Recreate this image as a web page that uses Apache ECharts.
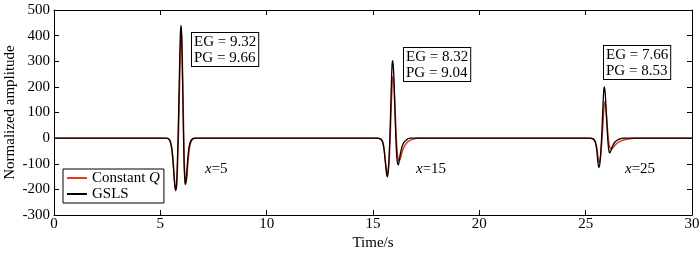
<!DOCTYPE html>
<html><head><meta charset="utf-8">
<script src="https://cdn.jsdelivr.net/npm/echarts@6/dist/echarts.min.js"></script>
<style>html,body{margin:0;padding:0;background:#fff}#c{width:700px;height:253px}</style>
</head><body><div id="c"></div>
<script>
// Constant Q series (time in s, normalized amplitude)
const timeConstQ = [0, 5.3, 5.45, 5.55, 5.62, 5.68, 5.73, 5.77, 5.81, 5.86, 5.91, 5.95, 5.98, 6.01, 6.05, 6.09, 6.13, 6.17, 6.21, 6.25, 6.30, 6.37, 6.47, 6.65,
  15.2, 15.35, 15.45, 15.52, 15.58, 15.63, 15.68, 15.72, 15.77, 15.82, 15.87, 15.91, 15.94, 15.98, 16.03, 16.08, 16.13, 16.18, 16.24, 16.30, 16.38, 16.50, 16.65, 16.85, 17.1,
  25.2, 25.35, 25.45, 25.52, 25.58, 25.63, 25.68, 25.73, 25.78, 25.83, 25.87, 25.90, 25.94, 25.99, 26.04, 26.09, 26.15, 26.22, 26.30, 26.40, 26.55, 26.75, 27.0, 27.3, 30];
const ampConstQ = [0, 0, -8, -45, -110, -178, -200, -182, -105, 40, 230, 370, 410, 388, 240, 55, -95, -160, -172, -150, -95, -40, -10, 0,
  0, -3, -13, -40, -85, -122, -138, -125, -70, 30, 150, 225, 240, 215, 130, 30, -45, -80, -88, -75, -50, -28, -14, -5, 0,
  0, -3, -12, -35, -75, -95, -85, -45, 10, 80, 130, 142, 125, 75, 20, -20, -38, -42, -36, -26, -16, -8, -3, 0, 0];
// GSLS series
const timeGSLS = [0, 5.3, 5.45, 5.55, 5.62, 5.68, 5.72, 5.76, 5.80, 5.85, 5.90, 5.94, 5.97, 6.00, 6.04, 6.08, 6.12, 6.16, 6.19, 6.23, 6.28, 6.35, 6.45, 6.6,
  15.2, 15.35, 15.45, 15.52, 15.58, 15.63, 15.67, 15.71, 15.76, 15.81, 15.86, 15.90, 15.93, 15.97, 16.02, 16.07, 16.12, 16.16, 16.19, 16.23, 16.30, 16.40, 16.55, 16.75,
  25.2, 25.35, 25.45, 25.52, 25.57, 25.62, 25.66, 25.71, 25.76, 25.81, 25.85, 25.88, 25.92, 25.97, 26.02, 26.07, 26.11, 26.14, 26.19, 26.27, 26.38, 26.55, 26.8, 30];
const ampGSLS = [0, 0, -10, -50, -120, -185, -205, -185, -100, 60, 260, 400, 440, 410, 250, 50, -110, -175, -180, -150, -90, -35, -8, 0,
  0, -3, -15, -45, -95, -135, -151, -135, -70, 50, 200, 290, 302, 260, 140, 10, -75, -100, -105, -90, -55, -25, -8, 0,
  0, -3, -15, -45, -90, -115, -105, -55, 20, 120, 185, 200, 175, 100, 20, -35, -55, -57, -48, -30, -15, -5, 0, 0];
const seriesNames = ['Constant Q', 'GSLS'];
const annotations = [
  {t: 'EG = 9.32\nPG = 9.66', x: 191, y: 32},
  {t: 'EG = 8.32\nPG = 9.04', x: 403, y: 47},
  {t: 'EG = 7.66\nPG = 8.53', x: 603, y: 45}
];
const offsetLabels = [{v: '5', x: 205, y: 162}, {v: '15', x: 416, y: 162}, {v: '25', x: 625, y: 162}];
const xTicks = {min: 0, max: 30, interval: 5};
const yTicks = {min: -300, max: 500, interval: 100};

const FONT = '"Liberation Serif", "Times New Roman", serif';
const FS = 15;
const zip = (a, b) => a.map((v, i) => [v, b[i]]);
const chart = echarts.init(document.getElementById('c'), null, {renderer: 'canvas'});
const axisCommon = {
  axisLine: {show: true, onZero: false, lineStyle: {color: '#000', width: 1}},
  axisTick: {show: true, inside: true, length: 5, lineStyle: {color: '#000'}},
  splitLine: {show: false}
};
const graphics = [];
annotations.forEach(a => graphics.push({
  type: 'text', left: a.x, top: a.y, z: 100,
  style: {text: a.t, font: FS + 'px ' + FONT, fill: '#000', lineHeight: 16,
    backgroundColor: '#fff', borderColor: '#000', borderWidth: 1, padding: [1, 2, 0, 2]}
}));
offsetLabels.forEach(o => graphics.push({
  type: 'text', left: o.x, top: o.y, z: 100,
  style: {text: '{i|x}=' + o.v, font: FS + 'px ' + FONT, fill: '#000',
    rich: {i: {fontStyle: 'italic', fontFamily: FONT, fontSize: FS}}}
}));
chart.setOption({
  animation: false,
  backgroundColor: '#fff',
  grid: {left: 54, right: 8, top: 10, bottom: 38, containLabel: false, outerBoundsMode: 'none'},
  legend: {
    orient: 'vertical', left: 63, top: 169, data: seriesNames,
    icon: 'rect', itemWidth: 20, itemHeight: 2,
    backgroundColor: '#fff', borderColor: '#000', borderWidth: 1, padding: [1, 4, 1, 4],
    itemGap: 0,
    textStyle: {fontFamily: FONT, fontSize: FS, color: '#000', lineHeight: 16,
      rich: {i: {fontStyle: 'italic', fontFamily: FONT, fontSize: FS, color: '#000', lineHeight: 16}}},
    formatter: n => n === 'Constant Q' ? 'Constant {i|Q}' : n
  },
  xAxis: [
    Object.assign({type: 'value', position: 'bottom', min: xTicks.min, max: xTicks.max, interval: xTicks.interval,
      name: 'Time/s', nameLocation: 'middle', nameGap: 21, nameMoveOverlap: false,
      nameTextStyle: {fontFamily: FONT, fontSize: FS, color: '#000'},
      axisLabel: {fontFamily: FONT, fontSize: FS, color: '#000', margin: 2}}, axisCommon),
    Object.assign({type: 'value', position: 'top', min: xTicks.min, max: xTicks.max, interval: xTicks.interval,
      axisLabel: {show: false}}, axisCommon)
  ],
  yAxis: [
    Object.assign({type: 'value', position: 'left', min: yTicks.min, max: yTicks.max, interval: yTicks.interval,
      name: 'Normalized amplitude', nameLocation: 'middle', nameGap: 36, nameRotate: 90, nameMoveOverlap: false,
      nameTextStyle: {fontFamily: FONT, fontSize: FS, color: '#000'},
      axisLabel: {fontFamily: FONT, fontSize: FS, color: '#000', margin: 4}}, axisCommon),
    Object.assign({type: 'value', position: 'right', min: yTicks.min, max: yTicks.max, interval: yTicks.interval,
      axisLabel: {show: false}}, axisCommon)
  ],
  series: [
    {name: seriesNames[0], type: 'line', data: zip(timeConstQ, ampConstQ), symbol: 'none', smooth: 0.3,
      lineStyle: {color: '#e5381c', width: 1.5}, itemStyle: {color: '#e5381c'}},
    {name: seriesNames[1], type: 'line', data: zip(timeGSLS, ampGSLS), symbol: 'none', smooth: 0.3,
      lineStyle: {color: '#000', width: 1.3}, itemStyle: {color: '#000'}}
  ],
  graphic: graphics
});
</script></body></html>
